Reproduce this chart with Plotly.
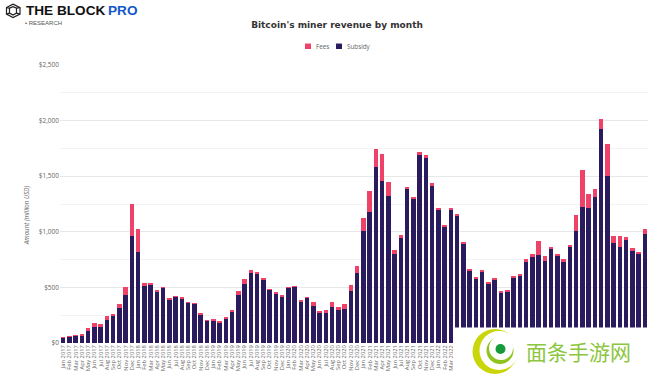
import plotly.graph_objects as go

month_names = ["Jan","Feb","Mar","Apr","May","Jun","Jul","Aug","Sep","Oct","Nov","Dec"]
months = [f"{m} {y}" for y in range(2017, 2025) for m in month_names][:94]
labelled_months = months[:63]
legend_names = ["Fees", "Subsidy"]
legend_colors = ["#ee4268", "#2a1b5e"]

totals = [50,57,66,72,135,177,168,246,264,351,504,1254,
          1026,537,537,468,498,396,417,405,363,354,261,204,
          207,189,228,294,468,573,660,636,582,483,453,423,
          501,510,381,411,369,282,300,366,327,354,522,693,
          1125,1368,1749,1704,1449,840,972,1404,1311,1722,1692,1437,
          1218,1056,1209,1156,907,664,595,655,547,586,469,475,
          604,625,751,799,916,784,862,802,751,883,1153,1558,
          1342,1387,2014,1786,961,961,949,853,817,1021]
subsidy = [48,55,64,66,111,144,147,210,243,318,429,960,
           822,513,522,459,495,390,414,402,360,351,258,201,
           204,186,222,282,432,534,633,621,570,477,444,417,
           495,504,372,405,333,273,270,327,300,306,465,627,
           1008,1182,1581,1461,1326,798,942,1386,1293,1692,1662,1416,
           1203,1044,1197,1144,886,655,583,646,535,574,454,463,
           592,610,730,772,787,739,844,787,724,862,1009,1219,
           1210,1315,1924,1504,895,859,922,829,802,976]
fees = [t - s for t, s in zip(totals, subsidy)]

W, H = 653, 378
L, R, T, B = 60, 5, 65, 34.5
px = lambda x: (x - L) / (W - L - R)
py = lambda y: (H - B - y) / (H - T - B)

def rect(x0, y0, x1, y1, color):
    return dict(type="rect", xref="paper", yref="paper", x0=px(x0), x1=px(x1), y0=py(y1), y1=py(y0),
                fillcolor=color, line_width=0, layer="above")

def circle(cx, cy, r, color):
    return dict(type="circle", xref="paper", yref="paper", x0=px(cx - r), x1=px(cx + r), y0=py(cy + r), y1=py(cy - r),
                fillcolor=color, line_width=0, layer="above")

def path(points, color, width=1.2):
    d = "M" + " L".join(f"{px(x):.4f},{py(y):.4f}" for x, y in points)
    return dict(type="path", xref="paper", yref="paper", path=d, line=dict(color=color, width=width), layer="above")

shapes = [
    rect(453, 328, 653, 378, "white"),
    circle(495, 352, 22.5, "#c9d60a"),
    circle(499, 351, 19.5, "white"),
    circle(500, 351, 13.5, "#8fc31f"),
    circle(501, 348.5, 12, "white"),
    circle(500.5, 349.5, 5, "#169b3c"),
    path([(13, 4), (20, 7.5), (20, 14), (13, 17.5), (6.5, 14), (6.5, 7.5), (13, 4)], "#222"),
    path([(9.5, 8), (13, 6.5), (16.5, 8), (16.5, 13), (13, 15), (9.5, 13), (9.5, 8)], "#222"),
    path([(6.5, 7.5), (9.5, 8)], "#222"),
    path([(20, 7.5), (16.5, 8)], "#222"),
    path([(6.5, 14), (9.5, 13)], "#222"),
    path([(20, 14), (16.5, 13)], "#222"),
    rect(305, 43.5, 311, 49, legend_colors[0]),
    rect(336, 43.5, 342, 49, legend_colors[1]),
]

def note(x, y, text, size, color, family, anchor="left", angle=0):
    return dict(xref="paper", yref="paper", x=px(x), y=py(y), text=text, showarrow=False, xanchor=anchor,
                yanchor="middle", textangle=angle, font=dict(size=size, color=color, family=family))

annotations = [
    note(24, 10.5, "<b>THE BLOCK</b>", 13.6, "#111", "Liberation Sans"),
    note(105.5, 10.5, "<b>PRO</b>", 13.6, "#1257c8", "Liberation Sans"),
    note(23, 22.5, "• RESEARCH", 6, "#555", "Liberation Sans"),
    note(578, 352, "面条手游网", 21, "#8cc63f", "Noto Sans CJK SC", "center"),
    note(314, 46, legend_names[0], 6.3, "#666", "Open Sans"),
    note(345, 46, legend_names[1], 6.3, "#666", "Open Sans"),
    note(26.5, 216, "<i>Amount (million USD)</i>", 6.2, "#666", "Open Sans", "center", -90),
]

fig = go.Figure()
fig.add_bar(x=months, y=subsidy, name="Subsidy", marker_color=legend_colors[1], marker_line_width=0)
fig.add_bar(x=months, y=fees, name="Fees", marker_color=legend_colors[0], marker_line_width=0)

fig.update_layout(
    width=W, height=H, autosize=False,
    margin=dict(l=L, r=R, t=T, b=B, pad=0),
    barmode="stack", bargap=0.28,
    paper_bgcolor="white", plot_bgcolor="white",
    font=dict(family="Open Sans", color="#666", size=6.5),
    title=dict(text="<b>Bitcoin's miner revenue by month</b>", x=337 / W, xanchor="center", y=1 - 25 / H, yanchor="middle",
               font=dict(family="DejaVu Sans", size=9, color="#333")),
    shapes=shapes, annotations=annotations, showlegend=False,
)
fig.update_xaxes(type="category", categoryorder="array", categoryarray=months, range=[-0.5, 93.5], automargin=False,
                 tickmode="array", tickvals=labelled_months, ticktext=labelled_months, tickangle=-90,
                 tickfont=dict(size=5.8, color="#666"), showgrid=False, ticks="", showline=False, zeroline=False, ticklen=0)
fig.update_yaxes(range=[0, 2500], tickmode="array", tickvals=[0, 500, 1000, 1500, 2000, 2500], automargin=False,
                 ticktext=["$0", "$500", "$1,000", "$1,500", "$2,000", "$2,500"],
                 tickfont=dict(size=6.5, color="#666"), gridcolor="#e8e8e8", gridwidth=1, zeroline=False, ticks="",
                 minor=dict(tickmode="array", tickvals=[250, 750, 1250, 1750, 2250], showgrid=True, gridcolor="#f3f3f3", gridwidth=1))
fig.write_html("out.html", config={"displayModeBar": False},
               post_script="document.body.style.margin='0';document.documentElement.style.overflow='hidden';")
